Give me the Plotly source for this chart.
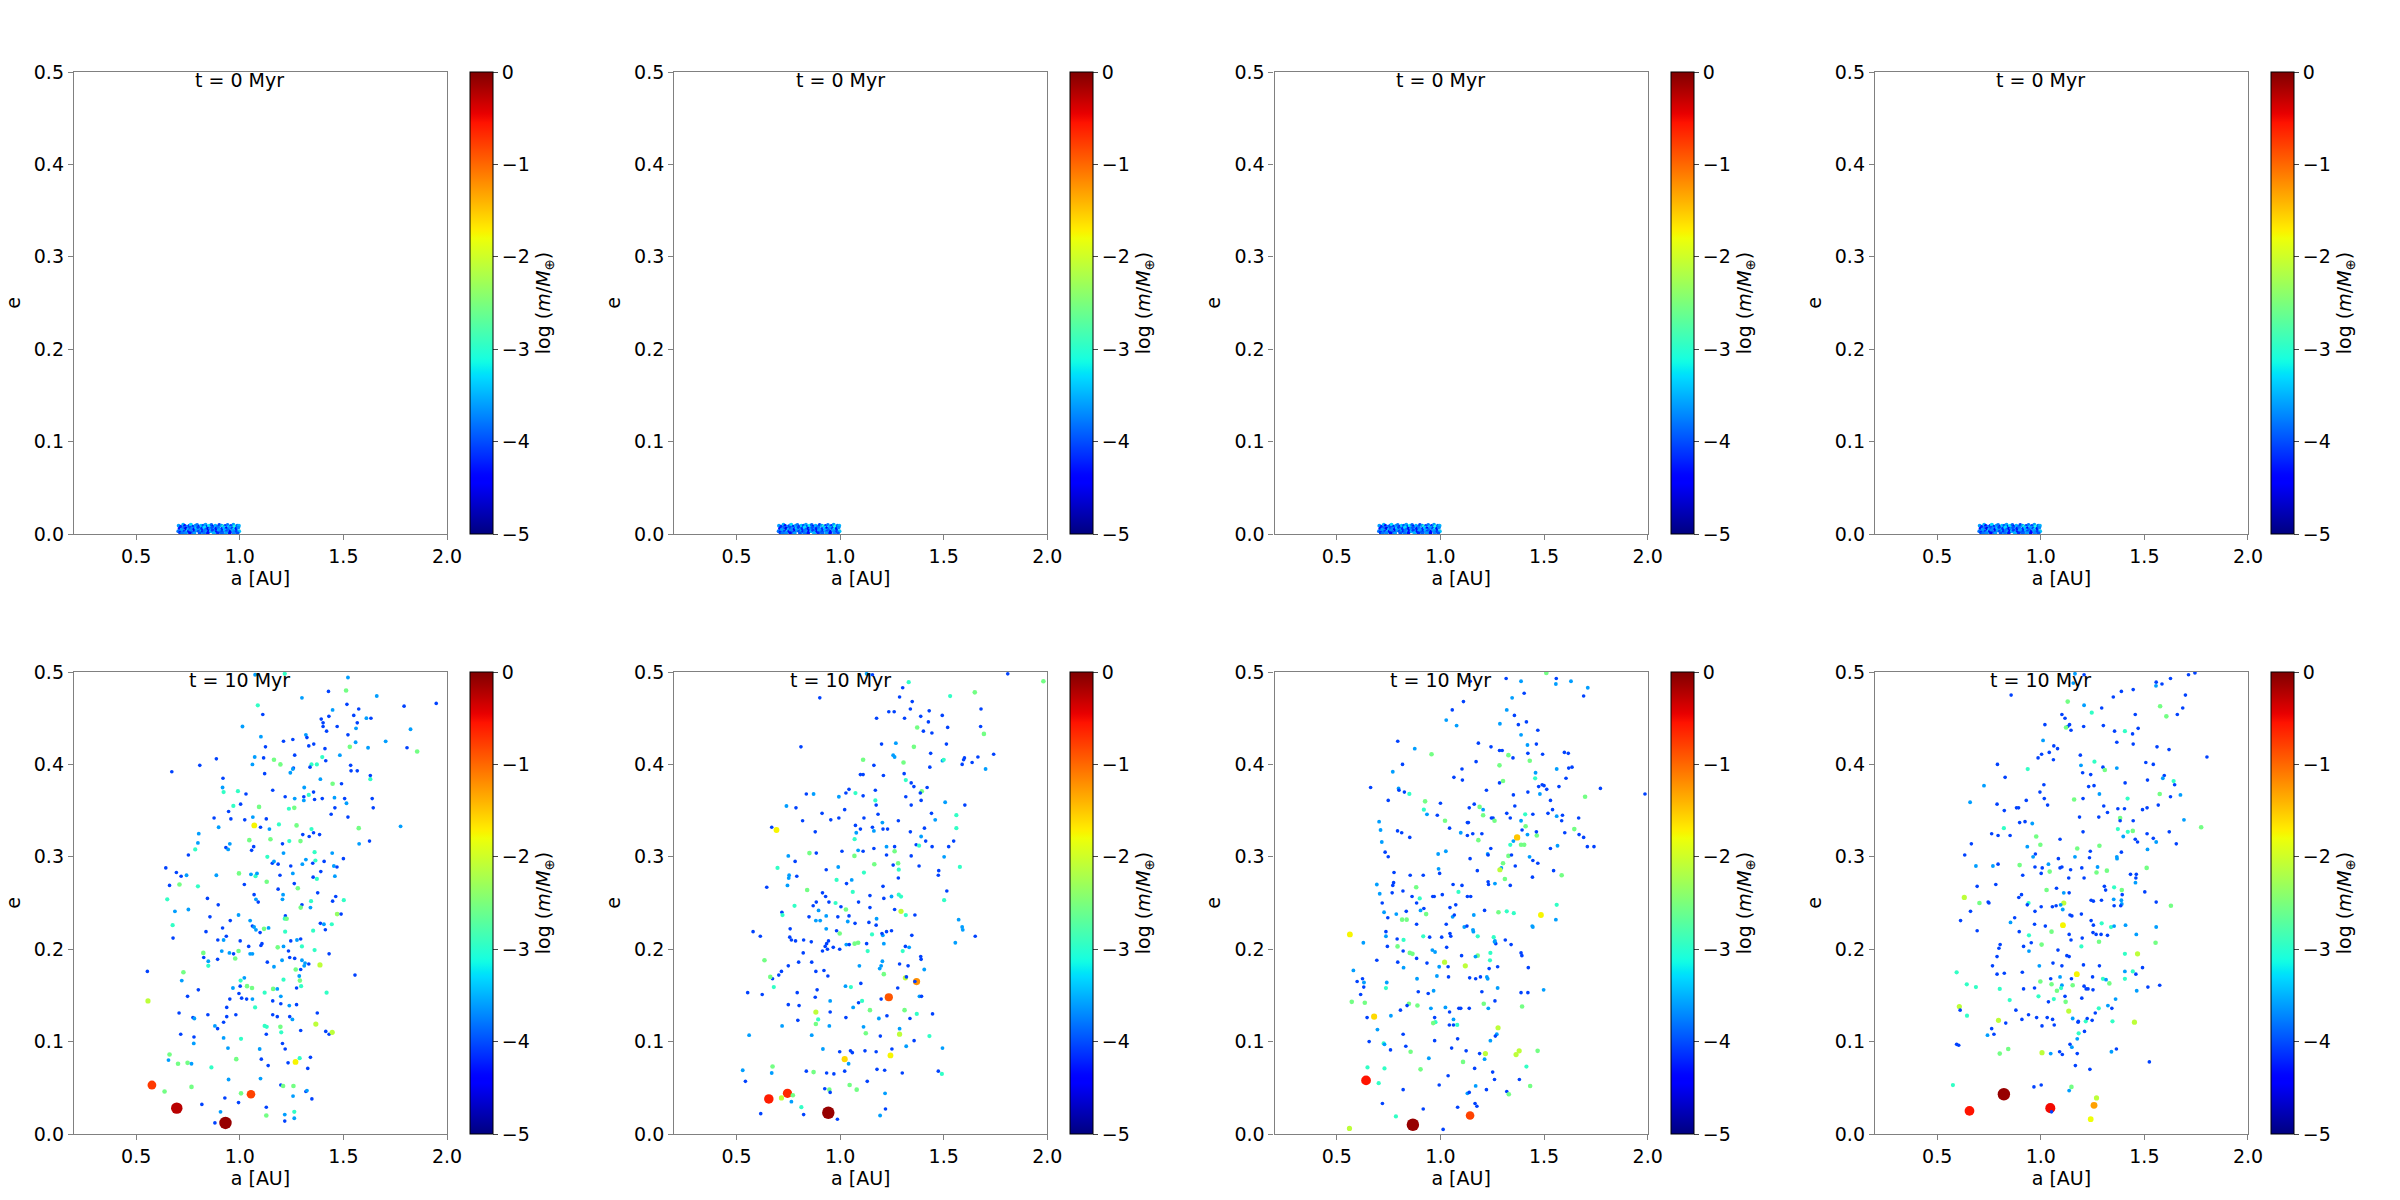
import numpy as np
import plotly.graph_objects as go

# ---------------- data ----------------
# t = 0 Myr : initial planetesimal strip (same in all four runs)
t0_a = [0.705,0.716,0.727,0.735,0.746,0.757,0.764,0.775,0.786,0.794,0.805,0.813,0.824,0.835,0.843,0.852,0.863,0.871,0.882,0.893,0.901,0.912,0.921,0.930,0.941,0.949,0.958,0.969,0.977,0.988,0.996,
        0.709,0.719,0.731,0.740,0.751,0.760,0.771,0.780,0.790,0.799,0.809,0.818,0.829,0.838,0.848,0.857,0.867,0.877,0.886,0.896,0.906,0.916,0.925,0.935,0.944,0.954,0.964,0.973,0.983,0.993,
        0.703,0.713,0.724,0.733,0.743,0.754,0.762,0.773,0.783,0.792,0.802,0.811,0.821,0.831,0.840,0.851,0.860,0.869,0.879,0.889,0.898,0.909,0.918,0.928,0.937,0.947,0.956,0.966,0.975,0.985,0.997,
        0.712,0.738,0.759,0.781,0.806,0.827,0.846,0.874,0.894,0.915,0.933,0.952,0.971,0.990,0.722]
t0_e = [0.009,0.008,0.010,0.009,0.008,0.009,0.010,0.008,0.009,0.010,0.008,0.009,0.009,0.010,0.008,0.009,0.010,0.008,0.009,0.008,0.010,0.009,0.008,0.009,0.010,0.008,0.009,0.010,0.008,0.009,0.009,
        0.006,0.005,0.007,0.006,0.005,0.007,0.006,0.005,0.006,0.007,0.005,0.006,0.007,0.005,0.006,0.006,0.007,0.005,0.006,0.007,0.005,0.006,0.007,0.006,0.005,0.007,0.006,0.005,0.006,0.007,
        0.003,0.002,0.004,0.003,0.002,0.003,0.004,0.002,0.003,0.004,0.003,0.002,0.003,0.004,0.002,0.003,0.003,0.004,0.002,0.003,0.004,0.002,0.003,0.004,0.003,0.002,0.003,0.004,0.002,0.003,0.003,
        0.001,0.001,0.001,0.001,0.001,0.001,0.001,0.001,0.001,0.001,0.001,0.001,0.001,0.001,0.001]
t0_logm = [-3.6,-4.2,-3.5,-4.4,-3.7,-4.1,-3.3,-4.3,-3.6,-3.8,-4.5,-3.4,-4.0,-3.6,-4.2,-3.2,-3.9,-4.4,-3.5,-3.7,-4.1,-3.6,-3.0,-4.2,-3.8,-3.4,-4.3,-3.6,-3.1,-3.9,-3.5,
           -4.3,-3.6,-3.9,-4.5,-3.5,-4.0,-3.7,-4.4,-3.4,-4.1,-3.6,-4.2,-3.3,-3.9,-4.5,-3.7,-4.0,-3.5,-4.3,-3.8,-3.6,-4.2,-3.4,-4.4,-3.9,-3.6,-4.1,-3.2,-4.3,-3.7,
           -3.8,-4.4,-3.6,-4.1,-3.5,-4.3,-3.7,-3.9,-4.5,-3.6,-4.0,-3.4,-4.2,-3.8,-3.6,-4.4,-3.5,-4.1,-3.7,-4.3,-3.6,-3.9,-4.2,-3.5,-4.0,-3.7,-4.4,-3.6,-3.8,-4.1,-3.4,
           -4.1,-3.7,-4.4,-3.6,-4.0,-3.8,-4.3,-3.5,-4.2,-3.9,-3.6,-4.4,-3.7,-4.0,-3.8]

# t = 10 Myr, run 1
p1_a = [1.074,1.217,1.522,1.513,1.300,1.661,1.948,1.793,1.428,1.087,
        1.517,1.448,1.111,1.430,1.550,1.574,1.393,1.611,1.633,1.567,
        1.561,1.824,1.402,1.402,1.470,1.419,1.522,1.013,1.319,1.324,
        1.102,1.256,1.211,1.559,1.704,1.531,1.333,1.124,1.357,1.411,
        1.619,1.807,1.856,1.265,1.072,1.115,1.165,1.483,1.398,1.415,
        0.887,1.196,0.807,1.346,1.372,0.672,1.061,1.120,1.244,1.259,
        1.256,1.339,1.535,1.537,1.567,1.630,1.630,1.389,1.448,1.491,
        0.919,0.917,0.922,0.991,1.030,1.159,1.311,1.333,1.356,1.219,
        1.265,1.309,1.309,1.398,1.457,1.506,1.639,1.515,1.644,1.093,
        0.969,1.004,0.946,1.237,1.263,1.361,1.459,1.441,1.522,0.876,
        0.957,1.024,1.063,1.128,1.070,1.100,1.189,1.274,1.143,1.346,
        1.574,1.776,0.898,0.802,0.798,1.304,1.335,1.356,1.385,1.046,
        1.148,1.239,1.293,1.206,0.952,1.067,0.933,0.944,1.057,0.785,
        1.576,1.626,1.361,1.211,1.446,0.752,1.133,1.500,1.319,1.365,
        1.407,1.352,0.643,0.694,0.717,0.743,0.887,0.996,1.054,1.076,
        1.083,1.157,1.165,1.185,1.246,1.302,1.454,1.469,1.194,1.256,
        1.130,1.354,1.372,1.391,1.459,0.661,0.709,0.798,1.022,1.263,
        1.280,1.185,0.650,0.844,1.069,1.078,1.089,1.209,1.206,1.376,
        1.463,1.502,1.344,1.448,1.300,1.341,1.294,0.896,0.687,0.752,
        0.994,1.470,1.489,0.856,1.220,1.217,1.226,0.954,1.050,0.676,
        1.061,1.069,1.117,1.139,1.078,1.098,1.389,1.406,1.444,1.413,
        1.354,1.219,0.917,0.837,0.678,0.935,0.894,0.922,1.002,1.246,
        1.276,1.294,1.107,1.043,0.824,0.994,0.913,0.950,0.970,0.978,
        1.050,1.061,1.102,1.183,1.211,1.300,1.235,1.361,1.387,0.826,
        0.848,0.893,0.848,1.133,1.204,1.241,1.265,1.300,1.315,1.311,
        1.333,1.165,1.270,1.294,1.431,1.556,0.554,0.728,0.720,1.287,
        1.290,1.296,1.274,1.211,1.004,1.022,1.035,1.059,1.002,0.967,
        0.800,1.161,1.181,1.120,1.419,0.557,0.748,0.996,1.009,1.033,
        1.061,0.952,1.159,1.198,1.198,1.239,1.274,1.074,0.937,0.707,
        0.846,0.937,0.981,1.159,1.181,1.241,1.254,1.374,0.774,0.781,
        0.922,1.367,0.880,0.893,1.120,1.130,1.196,1.200,1.128,1.294,
        1.415,1.431,1.446,0.715,0.779,0.922,1.006,0.778,0.943,1.096,
        1.206,1.219,0.661,0.656,0.983,1.104,1.289,1.341,1.269,1.233,
        0.702,0.748,0.767,1.137,1.328,0.863,1.100,0.946,1.198,1.209,
        1.259,0.576,0.637,0.767,1.006,1.054,1.257,1.319,1.324,1.348,
        0.928,0.994,0.817,0.696,1.128,0.907,1.128,1.217,1.263,1.263,
        1.217,0.880,0.931]
p1_e = [.497,.498,.494,.480,.472,.474,.466,.463,.479,.464,
        .465,.459,.454,.452,.453,.460,.449,.450,.450,.445,
        .439,.438,.445,.441,.441,.436,.432,.441,.432,.429,
        .430,.427,.425,.424,.425,.419,.420,.419,.422,.417,
        .418,.418,.414,.410,.408,.407,.405,.410,.408,.404,
        .406,.400,.399,.400,.400,.392,.400,.390,.391,.396,
        .395,.397,.399,.393,.393,.384,.388,.384,.379,.379,
        .385,.375,.370,.371,.368,.372,.375,.367,.370,.365,
        .363,.365,.361,.363,.364,.363,.363,.358,.353,.354,
        .355,.357,.349,.352,.353,.362,.353,.346,.343,.342,
        .341,.340,.343,.341,.334,.332,.335,.334,.330,.330,
        .331,.333,.332,.325,.315,.324,.322,.326,.324,.318,
        .319,.317,.317,.314,.314,.311,.310,.308,.307,.308,
        .314,.317,.305,.304,.304,.302,.300,.298,.297,.296,
        .295,.293,.288,.283,.279,.280,.280,.282,.281,.279,
        .282,.293,.295,.292,.290,.292,.290,.289,.280,.282,
        .273,.278,.276,.284,.279,.269,.270,.268,.270,.271,
        .266,.265,.254,.255,.259,.254,.251,.259,.254,.261,
        .257,.253,.252,.252,.248,.245,.245,.248,.241,.243,
        .237,.238,.238,.235,.236,.233,.233,.231,.231,.226,
        .225,.224,.222,.223,.221,.218,.228,.227,.227,.221,
        .220,.219,.223,.219,.212,.214,.210,.210,.209,.209,
        .210,.211,.206,.203,.196,.198,.198,.196,.195,.190,
        .195,.195,.204,.202,.203,.203,.198,.199,.183,.191,
        .187,.189,.182,.186,.188,.191,.190,.188,.185,.182,
        .184,.181,.178,.178,.195,.172,.176,.175,.166,.171,
        .166,.160,.158,.167,.166,.169,.160,.158,.160,.158,
        .156,.157,.157,.153,.153,.144,.149,.152,.147,.146,
        .146,.146,.144,.149,.141,.139,.140,.137,.137,.131,
        .129,.127,.129,.129,.127,.127,.124,.131,.126,.125,
        .121,.119,.117,.114,.117,.116,.116,.110,.108,.112,
        .111,.108,.110,.108,.105,.104,.103,.098,.093,.092,
        .098,.092,.086,.080,.081,.081,.082,.083,.078,.077,
        .076,.077,.076,.074,.071,.072,.060,.059,.053,.052,
        .052,.053,.046,.051,.044,.043,.041,.046,.047,.038,
        .039,.034,.032,.028,.029,.024,.020,.021,.024,.017,
        .014,.012,.012]
p1_logm = [-3.6,-2.95,-3.6,-2.55,-3.6,-3.6,-4.05,-4.05,-4.05,-2.95,
           -4.05,-3.6,-4.05,-4.05,-4.05,-4.05,-4.05,-3.6,-4.05,-4.05,
           -3.6,-3.6,-4.05,-4.05,-4.05,-4.05,-4.05,-3.6,-3.6,-4.05,
           -3.6,-4.05,-4.05,-3.6,-3.6,-2.55,-4.05,-4.05,-4.05,-4.05,
           -3.6,-4.05,-2.55,-4.05,-3.6,-4.05,-2.55,-3.6,-2.95,-4.05,
           -4.05,-2.55,-4.05,-2.95,-2.95,-4.05,-3.6,-4.05,-3.6,-4.05,
           -3.6,-4.05,-4.05,-4.05,-4.05,-2.95,-4.05,-3.6,-2.55,-4.05,
           -4.05,-3.6,-2.95,-2.95,-4.05,-4.05,-3.6,-2.95,-4.05,-4.05,
           -3.6,-4.05,-3.6,-4.05,-3.6,-4.05,-4.05,-3.6,-4.05,-2.55,
           -2.95,-4.05,-4.05,-2.95,-2.55,-4.05,-4.05,-4.05,-4.05,-4.05,
           -4.05,-4.05,-3.6,-4.05,-1.75,-4.05,-2.95,-2.55,-3.6,-2.95,
           -2.55,-3.6,-3.6,-3.6,-3.6,-4.05,-4.05,-4.05,-4.05,-2.55,
           -2.55,-2.95,-2.55,-4.05,-3.6,-4.05,-4.05,-3.6,-4.05,-2.95,
           -3.6,-4.05,-2.95,-3.6,-3.6,-4.05,-2.95,-4.05,-3.6,-2.95,
           -4.05,-4.05,-4.05,-4.05,-4.05,-3.6,-3.6,-2.55,-3.6,-2.95,
           -3.6,-4.05,-3.6,-4.05,-4.05,-3.6,-3.6,-4.05,-4.05,-3.6,
           -2.55,-4.05,-2.95,-4.05,-3.6,-4.05,-2.55,-2.95,-4.05,-4.05,
           -2.55,-4.05,-2.95,-4.05,-4.05,-3.6,-4.05,-3.6,-3.6,-4.05,
           -4.05,-2.95,-2.95,-4.05,-4.05,-3.6,-2.55,-4.05,-3.6,-3.6,
           -3.6,-2.35,-4.05,-4.05,-4.05,-2.95,-2.55,-4.05,-3.6,-2.95,
           -4.05,-3.6,-2.55,-3.6,-3.6,-4.05,-4.05,-3.6,-2.95,-4.05,
           -2.95,-2.95,-4.05,-4.05,-4.05,-4.05,-4.05,-3.6,-4.05,-4.05,
           -3.6,-4.05,-4.05,-4.05,-2.55,-2.55,-3.6,-3.6,-4.05,-2.55,
           -3.6,-3.6,-4.05,-2.55,-3.6,-2.95,-4.05,-2.95,-2.1,-4.05,
           -3.6,-4.05,-2.95,-4.05,-3.6,-4.05,-4.05,-3.6,-3.6,-3.6,
           -4.05,-3.6,-2.55,-4.05,-4.05,-4.05,-4.05,-2.55,-3.6,-3.6,
           -2.55,-2.95,-4.05,-2.95,-2.95,-3.6,-2.55,-2.55,-4.05,-3.6,
           -4.05,-2.55,-3.6,-2.95,-2.95,-2.1,-4.05,-4.05,-4.05,-4.05,
           -3.6,-4.05,-4.05,-3.6,-4.05,-3.6,-4.05,-2.95,-4.05,-4.05,
           -4.05,-4.05,-4.05,-4.05,-4.05,-4.05,-3.6,-4.05,-4.05,-3.6,
           -4.05,-2.1,-3.6,-4.05,-2.95,-2.95,-2.55,-2.95,-4.05,-4.05,
           -4.05,-4.05,-2.1,-4.05,-4.05,-3.6,-2.95,-3.6,-3.6,-3.6,
           -4.05,-4.05,-2.55,-3.6,-2.55,-4.05,-2.95,-4.05,-1.75,-4.05,
           -2.55,-2.55,-3.6,-4.05,-4.05,-2.95,-3.6,-3.6,-4.05,-2.55,
           -2.55,-0.75,-2.55,-2.55,-2.55,-0.8,-3.6,-4.05,-3.6,-4.05,
           -4.05,-4.05,-4.05,-0.25,-4.05,-3.6,-2.55,-3.6,-2.95,-3.6,
           -4.05,-4.05,-0.1]

# t = 10 Myr, run 2
p2_a = [1.128,1.156,1.331,1.809,1.981,0.902,1.302,1.287,1.531,1.650,
        1.348,1.680,1.339,1.235,1.261,1.430,1.493,1.176,1.311,1.389,
        1.426,1.519,1.372,1.402,1.443,1.678,1.694,1.200,1.269,1.513,
        1.356,0.811,1.256,1.263,1.437,1.741,1.111,1.494,1.500,1.665,
        1.600,1.596,1.589,1.637,1.306,1.163,1.433,1.702,1.309,1.098,
        1.111,1.209,1.317,1.343,1.356,1.420,1.394,1.387,1.043,1.028,
        1.074,1.170,0.994,1.111,1.317,0.837,0.872,1.170,1.174,1.343,
        1.391,1.507,1.602,0.741,0.787,1.022,0.913,1.441,1.561,1.183,
        1.115,0.994,0.955,0.819,1.281,1.204,1.459,0.670,0.693,1.074,
        1.098,1.156,1.207,1.229,1.163,1.078,0.880,1.339,1.407,1.561,
        1.070,1.391,1.413,1.367,1.381,1.548,1.524,1.009,1.087,1.111,
        1.163,1.224,1.263,1.263,0.852,0.885,1.069,0.750,0.783,1.224,
        1.343,1.444,1.502,1.165,1.256,1.280,0.933,0.991,0.698,1.283,
        1.381,1.476,1.474,1.578,0.754,0.791,0.752,0.746,0.983,1.056,
        1.031,1.115,1.207,1.281,0.646,0.841,1.061,0.915,0.930,0.978,
        1.144,1.248,1.211,1.283,1.294,1.515,1.502,0.885,0.870,0.946,
        0.896,1.004,1.028,1.089,1.144,1.263,1.294,1.317,1.361,0.719,
        0.722,0.780,0.933,0.989,1.043,0.850,0.883,0.904,1.037,1.072,
        1.176,1.139,1.174,1.572,1.589,1.592,0.933,0.759,0.580,0.983,
        1.154,1.206,1.202,1.224,1.248,0.998,1.346,0.615,0.757,0.765,
        0.785,0.824,0.861,0.944,1.087,1.070,1.030,1.044,0.935,0.928,
        0.967,0.998,1.128,1.211,1.315,1.333,1.556,1.652,0.635,0.915,
        0.939,1.133,1.302,0.822,1.093,0.750,0.800,0.863,1.204,1.198,
        1.287,1.328,1.389,1.391,1.406,1.191,1.211,0.883,0.922,0.717,
        0.704,0.674,0.663,1.315,1.320,1.369,1.361,0.941,1.100,0.680,
        1.026,1.052,1.278,0.554,0.793,0.889,0.624,1.383,1.393,1.235,
        1.198,0.952,0.880,1.106,0.802,0.750,1.063,1.089,1.144,1.311,
        0.883,0.952,1.370,1.446,1.226,1.028,1.187,1.337,0.894,0.796,
        0.883,0.720,0.948,1.113,1.287,1.124,1.287,0.561,0.863,1.194,
        1.431,1.357,1.319,0.917,1.250,1.494,0.998,1.050,1.174,1.059,
        1.120,1.243,1.022,1.041,0.674,0.530,0.670,0.837,0.872,0.935,
        0.970,1.022,1.178,1.215,1.300,1.474,1.491,0.543,1.131,1.046,
        0.926,0.948,0.952,1.080,1.217,0.746,0.772,0.717,0.656,0.765,
        0.813,1.219,0.617,0.824,0.943,1.193,0.987]
p2_e = [.498,.497,.489,.498,.490,.472,.483,.473,.474,.478,
        .468,.460,.460,.457,.457,.458,.453,.450,.450,.452,
        .446,.440,.440,.436,.434,.441,.433,.422,.423,.422,
        .419,.419,.410,.408,.412,.411,.405,.404,.405,.408,
        .407,.405,.400,.402,.402,.399,.397,.395,.390,.389,
        .389,.388,.383,.380,.376,.375,.371,.369,.373,.369,
        .369,.372,.365,.366,.365,.368,.368,.361,.356,.356,
        .361,.359,.356,.355,.353,.351,.347,.347,.345,.346,
        .342,.342,.340,.339,.339,.337,.340,.332,.329,.334,
        .330,.332,.330,.330,.328,.326,.327,.327,.331,.331,
        .319,.322,.317,.313,.312,.317,.311,.306,.307,.306,
        .309,.311,.311,.306,.304,.304,.301,.301,.295,.302,
        .301,.311,.300,.292,.291,.293,.286,.289,.288,.286,
        .290,.285,.280,.289,.280,.279,.277,.269,.275,.275,
        .271,.283,.268,.277,.267,.264,.262,.261,.257,.250,
        .258,.257,.255,.259,.257,.263,.253,.251,.247,.251,
        .242,.246,.243,.251,.245,.243,.241,.237,.237,.240,
        .237,.247,.236,.235,.236,.235,.231,.231,.230,.228,
        .233,.229,.226,.232,.224,.221,.222,.222,.219,.220,
        .216,.215,.217,.219,.220,.217,.215,.214,.213,.210,
        .209,.210,.208,.209,.207,.206,.205,.205,.206,.203,
        .202,.200,.206,.206,.203,.202,.207,.214,.188,.198,
        .200,.198,.198,.196,.182,.182,.186,.186,.187,.182,
        .184,.182,.192,.189,.178,.179,.173,.176,.177,.176,
        .172,.168,.170,.169,.170,.165,.165,.171,.163,.159,
        .160,.159,.158,.153,.153,.156,.151,.149,.149,.148,
        .146,.144,.148,.144,.139,.140,.137,.142,.134,.134,
        .132,.132,.130,.130,.128,.126,.125,.125,.124,.123,
        .119,.117,.117,.116,.114,.109,.108,.107,.107,.106,
        .106,.101,.095,.092,.092,.093,.089,.090,.089,.088,
        .090,.085,.081,.076,.073,.069,.066,.068,.067,.066,
        .065,.068,.070,.069,.066,.068,.065,.057,.057,.053,
        .049,.048,.045,.048,.044,.044,.042,.039,.038,.035,
        .029,.027,.022,.021,.023,.020,.016]
p2_logm = [-3.6,-4.05,-2.95,-4.05,-2.55,-4.05,-4.05,-4.05,-2.95,-2.55,
           -4.05,-4.05,-4.05,-4.05,-4.05,-4.05,-4.05,-4.05,-4.05,-4.05,
           -4.05,-4.05,-2.55,-4.05,-4.05,-4.05,-2.55,-4.05,-3.6,-4.05,
           -2.55,-4.05,-3.6,-3.6,-4.05,-4.05,-2.55,-3.6,-2.95,-4.05,
           -4.05,-4.05,-4.05,-4.05,-2.55,-4.05,-4.05,-3.6,-4.05,-4.05,
           -4.05,-4.05,-2.95,-4.05,-4.05,-4.05,-2.55,-4.05,-4.05,-4.05,
           -2.95,-4.05,-3.6,-4.05,-4.05,-4.05,-3.6,-2.95,-4.05,-4.05,
           -4.05,-3.6,-4.05,-3.6,-4.05,-4.05,-4.05,-4.05,-2.95,-4.05,
           -4.05,-4.05,-4.05,-4.05,-4.05,-3.6,-3.6,-4.05,-1.75,-4.05,
           -4.05,-4.05,-4.05,-4.05,-3.6,-3.6,-4.05,-4.05,-4.05,-2.95,
           -2.95,-3.6,-4.05,-4.05,-2.95,-4.05,-4.05,-4.05,-3.6,-4.05,
           -4.05,-3.6,-4.05,-2.55,-2.55,-4.05,-2.55,-3.6,-4.05,-4.05,
           -4.05,-4.05,-3.6,-2.55,-4.05,-2.55,-4.05,-3.6,-2.95,-2.95,
           -4.05,-4.05,-4.05,-2.95,-3.6,-4.05,-3.6,-3.6,-2.95,-3.6,
           -4.05,-2.95,-4.05,-4.05,-4.05,-2.55,-2.95,-4.05,-4.05,-2.95,
           -4.05,-3.6,-4.05,-2.95,-2.95,-4.05,-2.95,-4.05,-4.05,-4.05,
           -3.6,-4.05,-2.55,-4.05,-4.05,-4.05,-2.1,-2.95,-4.05,-4.05,
           -2.95,-2.95,-3.6,-4.05,-4.05,-4.05,-3.6,-3.6,-3.6,-4.05,
           -3.6,-4.05,-4.05,-3.6,-3.6,-3.6,-3.6,-4.05,-4.05,-4.05,
           -2.95,-3.6,-4.05,-4.05,-4.05,-2.55,-4.05,-4.05,-4.05,-4.05,
           -4.05,-4.05,-4.05,-4.05,-2.55,-2.55,-3.6,-4.05,-4.05,-4.05,
           -4.05,-4.05,-4.05,-3.6,-4.05,-3.6,-3.6,-4.05,-2.55,-4.05,
           -4.05,-2.95,-2.95,-4.05,-3.6,-4.05,-4.05,-4.05,-3.6,-3.6,
           -4.05,-4.05,-4.05,-4.05,-3.6,-3.6,-2.55,-4.05,-4.05,-4.05,
           -4.05,-4.05,-2.55,-2.1,-4.05,-1.2,-4.05,-4.05,-4.05,-2.95,
           -3.6,-2.95,-4.05,-4.05,-4.05,-4.05,-4.05,-3.6,-4.05,-0.9,
           -4.05,-3.6,-4.05,-2.95,-4.05,-4.05,-3.6,-4.05,-2.55,-2.55,
           -2.1,-4.05,-2.95,-4.05,-4.05,-4.05,-3.6,-4.05,-2.95,-4.05,
           -2.55,-3.6,-3.6,-3.6,-3.6,-2.55,-2.1,-3.6,-3.6,-4.05,
           -2.95,-4.05,-3.6,-3.6,-4.05,-3.6,-4.05,-4.05,-4.05,-4.05,
           -4.05,-1.75,-1.6,-3.6,-2.55,-3.6,-3.6,-4.05,-2.55,-4.05,
           -4.05,-4.05,-4.05,-4.05,-4.05,-4.05,-2.95,-4.05,-4.05,-2.55,
           -4.05,-2.55,-4.05,-2.55,-3.6,-0.65,-2.55,-2.1,-0.6,-3.6,
           -2.95,-4.05,-4.05,-4.05,-0.1,-3.6,-4.05]

# t = 10 Myr, run 3
p3_a = [1.511,1.144,1.317,1.389,1.559,1.557,1.630,1.711,1.346,1.404,
        1.111,1.691,1.057,1.320,1.028,1.357,1.415,1.078,1.287,1.376,
        1.470,1.389,1.420,1.463,0.794,1.183,1.244,0.876,0.957,1.298,
        1.285,1.422,1.493,1.598,1.617,1.328,1.350,1.431,1.172,0.817,
        1.285,1.459,1.561,1.619,1.635,1.606,1.104,1.065,1.106,0.770,
        1.302,1.285,1.457,1.474,1.491,1.500,1.513,1.572,0.663,0.798,
        0.800,0.826,0.850,1.222,1.352,1.422,1.480,1.772,1.698,1.987,
        0.926,1.000,0.748,1.531,1.163,1.189,1.139,1.206,0.920,0.935,
        0.985,1.359,1.409,1.446,1.541,1.519,1.561,1.589,1.585,1.667,
        1.691,1.206,1.254,1.246,1.261,1.135,1.022,1.044,1.130,0.704,
        0.711,0.717,1.337,1.389,1.411,1.394,1.320,1.646,1.600,1.669,
        0.793,0.813,0.852,1.098,1.156,1.200,1.130,1.370,1.420,1.465,
        1.463,1.183,1.337,1.389,1.404,1.352,1.565,1.531,1.741,1.243,
        1.228,1.230,1.328,1.343,0.733,0.748,0.989,1.026,1.143,1.430,
        1.446,1.470,1.709,1.302,1.294,1.287,1.361,0.991,0.996,1.178,
        1.546,0.776,0.854,0.917,1.585,1.444,1.311,1.230,1.263,1.232,
        1.337,0.693,0.774,0.770,1.061,1.104,0.883,0.767,0.819,0.707,
        1.009,1.087,0.863,0.900,0.963,0.970,1.130,1.146,0.719,0.885,
        1.561,0.920,1.046,1.074,1.213,0.835,0.728,0.787,0.904,0.931,
        1.059,1.067,1.161,1.280,1.320,1.354,1.485,1.557,0.815,0.837,
        0.746,0.885,1.028,1.115,1.128,1.157,1.159,1.443,1.446,0.737,
        0.737,0.917,0.948,1.006,1.046,1.050,1.180,0.791,0.822,1.257,
        1.313,1.263,1.267,1.341,0.744,0.793,1.030,1.261,0.563,0.628,
        0.961,0.974,0.820,0.852,0.865,1.241,1.180,1.169,1.102,1.239,
        0.885,0.794,1.020,0.935,1.389,1.393,1.120,0.994,1.037,0.822,
        1.276,1.424,1.235,0.580,0.693,0.983,1.039,1.141,1.170,1.193,
        1.224,1.228,0.887,0.624,0.598,0.631,0.630,0.615,0.741,0.737,
        1.276,1.498,0.967,0.941,0.893,1.200,1.389,1.422,1.263,0.572,
        0.635,0.848,0.839,0.889,1.209,1.231,1.394,0.807,0.954,1.024,
        1.044,1.089,1.098,1.139,0.680,0.646,0.972,0.761,0.976,0.965,
        1.063,1.043,1.063,1.081,1.278,0.696,1.272,1.265,0.820,0.972,
        1.083,1.241,0.656,0.726,0.730,0.833,1.054,1.124,1.189,0.759,
        0.856,1.217,1.213,1.380,1.365,1.469,0.944,1.109,0.648,0.730,
        0.904,1.165,1.415,1.252,1.037,0.641,1.261,1.381,0.702,0.994,
        1.170,1.222,1.433,0.820,1.130,1.139,1.320,1.330,0.720,1.167,
        1.176,1.083,0.917,0.785,1.143,0.867,0.561,1.013]
p3_e = [.499,.490,.493,.490,.493,.487,.490,.483,.472,.477,
        .468,.474,.459,.459,.448,.453,.446,.442,.444,.443,
        .437,.432,.421,.422,.425,.423,.419,.417,.411,.415,
        .415,.412,.411,.413,.412,.410,.407,.404,.403,.400,
        .399,.391,.395,.396,.397,.385,.395,.386,.383,.392,
        .382,.380,.385,.376,.378,.377,.373,.376,.375,.374,
        .372,.370,.368,.372,.367,.370,.368,.374,.365,.368,
        .360,.358,.361,.361,.357,.354,.353,.351,.351,.346,
        .345,.355,.346,.346,.351,.347,.344,.345,.339,.342,
        .321,.345,.342,.342,.339,.337,.339,.331,.337,.338,
        .329,.316,.342,.339,.333,.329,.347,.330,.326,.324,
        .328,.326,.321,.326,.325,.325,.323,.321,.324,.323,
        .327,.318,.313,.313,.313,.317,.312,.309,.311,.309,
        .303,.302,.301,.302,.305,.300,.303,.306,.298,.300,
        .296,.293,.311,.293,.288,.286,.290,.287,.282,.285,
        .285,.283,.280,.280,.280,.278,.276,.273,.271,.270,
        .269,.270,.272,.269,.270,.269,.267,.261,.263,.260,
        .259,.262,.257,.255,.257,.257,.257,.257,.250,.250,
        .248,.244,.245,.248,.242,.241,.240,.238,.242,.238,
        .235,.237,.237,.240,.241,.239,.237,.232,.232,.232,
        .234,.227,.227,.224,.225,.221,.219,.225,.224,.219,
        .214,.214,.213,.213,.217,.214,.214,.211,.210,.213,
        .210,.209,.206,.205,.203,.203,.202,.208,.216,.207,
        .199,.197,.198,.196,.195,.196,.193,.192,.193,.188,
        .190,.186,.186,.185,.196,.193,.182,.181,.181,.180,
        .181,.180,.179,.177,.188,.171,.170,.169,.168,.170,
        .170,.168,.168,.168,.165,.164,.159,.151,.164,.158,
        .158,.156,.155,.152,.154,.154,.153,.153,.144,.143,
        .142,.141,.139,.139,.141,.136,.138,.134,.136,.137,
        .132,.136,.136,.136,.127,.126,.126,.128,.121,.120,
        .124,.118,.118,.118,.115,.113,.108,.106,.108,.101,
        .103,.101,.100,.098,.097,.095,.093,.090,.087,.091,
        .089,.087,.081,.090,.086,.090,.082,.078,.072,.071,
        .070,.071,.073,.067,.063,.058,.059,.059,.055,.053,
        .052,.048,.052,.048,.044,.045,.046,.043,.033,.033,
        .030,.029,.027,.019,.020,.010,.006,.005]
p3_logm = [-2.55,-4.05,-4.05,-3.6,-4.05,-3.6,-3.6,-3.6,-3.6,-4.05,
           -4.05,-4.05,-4.05,-3.6,-3.6,-4.05,-4.05,-3.6,-3.6,-4.05,
           -4.05,-3.6,-3.6,-4.05,-4.05,-4.05,-4.05,-3.6,-2.55,-4.05,
           -4.05,-4.05,-4.05,-4.05,-4.05,-2.55,-4.05,-2.55,-4.05,-4.05,
           -2.55,-3.6,-3.6,-4.05,-4.05,-4.05,-4.05,-4.05,-4.05,-3.6,
           -2.55,-4.05,-2.95,-4.05,-4.05,-4.05,-4.05,-4.05,-4.05,-3.6,
           -4.05,-4.05,-2.95,-4.05,-4.05,-4.05,-3.6,-4.05,-2.55,-4.05,
           -2.55,-4.05,-4.05,-4.05,-4.05,-2.55,-4.05,-3.6,-2.95,-3.6,
           -4.05,-4.05,-2.95,-4.05,-4.05,-4.05,-3.6,-4.05,-4.05,-4.05,
           -4.05,-2.55,-4.05,-4.05,-2.55,-4.05,-2.55,-4.05,-4.05,-3.6,
           -3.6,-3.6,-4.05,-3.6,-2.55,-4.05,-4.05,-2.55,-4.05,-4.05,
           -4.05,-4.05,-4.05,-3.6,-4.05,-4.05,-4.05,-1.5,-3.6,-2.55,
           -4.05,-2.55,-2.95,-2.55,-2.55,-3.6,-3.6,-4.05,-4.05,-4.05,
           -3.6,-4.05,-2.55,-4.05,-4.05,-4.05,-3.6,-3.6,-4.05,-3.6,
           -4.05,-4.05,-4.05,-2.55,-3.6,-2.1,-4.05,-3.6,-4.05,-4.05,
           -4.05,-4.05,-4.05,-4.05,-2.55,-4.05,-2.55,-4.05,-3.6,-4.05,
           -4.05,-3.6,-4.05,-4.05,-4.05,-4.05,-2.55,-4.05,-4.05,-3.6,
           -4.05,-2.95,-4.05,-2.95,-4.05,-4.05,-4.05,-4.05,-4.05,-4.05,
           -2.95,-4.05,-4.05,-4.05,-4.05,-4.05,-3.6,-3.6,-3.6,-2.55,
           -3.6,-4.05,-3.6,-2.55,-2.95,-2.95,-1.75,-3.6,-2.55,-2.55,
           -4.05,-4.05,-4.05,-3.6,-4.05,-3.6,-3.6,-3.6,-3.6,-4.05,
           -3.6,-2.95,-4.05,-4.05,-4.05,-4.05,-2.95,-4.05,-2.95,-2.95,
           -4.05,-3.6,-4.05,-4.05,-4.05,-2.55,-4.05,-3.6,-1.75,-3.6,
           -3.6,-3.6,-4.05,-2.55,-2.55,-2.95,-2.55,-3.6,-4.05,-2.95,
           -4.05,-4.05,-2.1,-4.05,-4.05,-4.05,-2.1,-3.6,-4.05,-3.6,
           -4.05,-4.05,-4.05,-3.6,-4.05,-3.6,-4.05,-4.05,-4.05,-4.05,
           -3.6,-3.6,-3.6,-4.05,-4.05,-3.6,-4.05,-4.05,-3.6,-2.95,
           -3.6,-3.6,-3.6,-4.05,-4.05,-4.05,-4.05,-4.05,-4.05,-2.55,
           -2.55,-2.55,-4.05,-2.55,-2.55,-3.6,-2.55,-4.05,-3.6,-3.6,
           -4.05,-4.05,-4.05,-4.05,-1.6,-4.05,-4.05,-3.6,-2.95,-2.55,
           -3.6,-4.05,-4.05,-2.95,-2.1,-3.6,-3.6,-4.05,-4.05,-4.05,
           -4.05,-3.6,-4.05,-2.95,-3.6,-4.05,-4.05,-4.05,-4.05,-4.05,
           -2.55,-2.1,-3.6,-2.1,-2.1,-2.55,-3.6,-2.55,-2.95,-2.95,
           -2.55,-4.05,-2.95,-4.05,-4.05,-0.55,-4.05,-4.05,-2.95,-4.05,
           -3.6,-4.05,-2.55,-4.05,-3.6,-4.05,-4.05,-2.55,-4.05,-4.05,
           -4.05,-4.05,-4.05,-2.95,-0.8,-0.1,-2.1,-4.05]

# t = 10 Myr, run 4
p4_a = [1.165,1.157,1.209,1.557,1.556,1.585,1.626,1.713,1.744,1.698,
        0.857,1.130,1.209,1.294,1.350,1.389,1.446,1.576,1.685,1.102,
        1.117,1.246,1.456,1.606,1.659,1.020,1.130,1.139,1.146,1.122,
        1.207,1.302,1.406,1.356,1.443,1.470,1.367,1.446,1.561,1.619,
        1.011,1.063,1.081,1.041,1.004,0.987,1.061,1.191,1.259,1.802,
        0.791,0.937,1.194,1.202,1.241,1.300,1.309,1.367,1.507,1.543,
        1.596,1.589,1.641,1.646,1.515,0.828,0.726,1.231,1.257,1.015,
        1.407,0.996,1.017,1.033,1.283,1.161,1.204,1.419,1.574,1.674,
        1.626,0.659,0.789,0.824,0.930,0.883,0.893,1.304,1.322,1.372,
        1.404,1.491,1.513,1.567,1.187,1.280,1.383,1.446,1.691,1.774,
        0.898,0.924,0.959,0.822,0.763,0.794,0.852,0.978,1.093,1.204,
        1.372,1.383,1.420,1.444,1.456,1.467,1.398,1.513,1.543,1.557,
        1.620,0.665,0.633,0.998,0.935,1.176,1.239,1.283,1.389,1.367,
        1.368,1.515,1.654,1.165,0.963,0.974,1.085,1.235,0.687,0.769,
        0.794,0.898,0.972,1.007,1.037,1.102,1.093,1.144,1.198,1.274,
        1.319,1.269,1.043,1.002,0.913,1.135,1.209,1.433,1.461,1.459,
        1.511,1.457,0.693,0.783,1.076,1.028,1.111,1.137,1.307,1.313,
        1.354,1.391,1.393,1.502,1.293,1.243,1.254,1.352,1.389,1.391,
        1.386,1.354,1.557,1.628,0.631,0.704,0.746,0.750,0.941,1.111,
        1.096,0.935,0.894,0.907,1.002,1.056,1.074,1.106,0.661,0.972,
        1.141,1.150,1.196,0.613,0.874,0.854,0.970,1.022,1.052,1.107,
        1.243,1.254,1.294,1.339,1.354,1.409,1.557,1.137,1.252,1.267,
        1.291,1.322,1.461,0.896,0.943,0.693,1.200,1.146,1.281,0.954,
        1.004,0.917,0.804,0.798,0.943,1.196,1.554,1.083,0.789,1.126,
        1.137,1.406,1.467,1.206,0.993,1.102,1.059,1.283,1.491,0.767,
        0.789,0.824,0.594,0.911,1.174,1.093,1.048,1.148,1.250,1.406,
        1.444,1.459,1.300,1.331,1.315,1.406,0.998,1.052,1.154,1.102,
        1.098,1.209,1.219,1.252,1.228,0.643,0.687,0.802,0.917,0.970,
        1.078,1.463,1.517,1.574,1.117,1.198,0.850,0.989,1.063,1.037,
        1.120,1.361,0.607,0.611,0.644,0.880,1.135,1.280,1.324,1.343,
        1.263,0.941,0.909,0.980,1.031,1.057,1.154,1.181,1.180,1.217,
        1.224,1.248,0.796,0.831,1.211,1.006,1.065,1.346,1.452,0.763,
        0.774,0.743,1.183,1.176,0.594,0.604,1.141,1.150,0.843,0.802,
        1.006,1.048,1.091,1.104,1.176,1.341,1.365,1.167,1.237,1.524,
        0.576,0.967,1.002,1.148,1.137,0.822,1.269,1.257,1.046,1.052,
        0.656,1.241]
p4_e = [.498,.488,.497,.489,.485,.487,.493,.497,.499,.475,
        .475,.468,.464,.461,.473,.479,.481,.463,.461,.454,
        .450,.456,.454,.452,.454,.443,.441,.443,.437,.440,
        .441,.442,.436,.436,.433,.439,.424,.422,.419,.416,
        .426,.420,.417,.413,.411,.407,.405,.410,.403,.408,
        .400,.395,.399,.391,.389,.397,.394,.396,.402,.400,
        .388,.385,.382,.378,.383,.386,.377,.376,.377,.378,
        .380,.370,.363,.356,.368,.362,.363,.363,.368,.367,
        .365,.359,.357,.350,.361,.353,.353,.355,.348,.352,
        .352,.351,.353,.356,.343,.343,.342,.339,.340,.332,
        .337,.338,.336,.331,.325,.323,.323,.322,.319,.327,
        .330,.339,.327,.328,.319,.316,.322,.325,.320,.316,
        .327,.314,.302,.313,.311,.309,.306,.312,.305,.300,
        .298,.308,.314,.300,.300,.303,.298,.299,.290,.290,
        .292,.291,.289,.288,.292,.289,.288,.286,.288,.289,
        .285,.283,.284,.282,.280,.277,.277,.281,.281,.277,
        .288,.272,.268,.270,.266,.264,.261,.261,.268,.264,
        .267,.264,.259,.262,.253,.253,.252,.254,.253,.249,
        .247,.247,.251,.247,.256,.250,.251,.250,.250,.250,
        .248,.248,.256,.259,.246,.246,.247,.243,.241,.241,
        .237,.236,.238,.231,.234,.229,.227,.225,.219,.226,
        .231,.226,.228,.224,.225,.226,.224,.216,.218,.216,
        .216,.215,.216,.219,.215,.220,.212,.210,.208,.207,
        .205,.203,.205,.201,.198,.203,.207,.199,.192,.193,
        .192,.195,.195,.183,.182,.182,.185,.182,.180,.182,
        .173,.174,.175,.175,.173,.170,.168,.168,.170,.176,
        .176,.173,.168,.163,.167,.168,.165,.162,.161,.161,
        .158,.160,.157,.156,.157,.162,.159,.157,.157,.158,
        .155,.155,.159,.161,.149,.147,.145,.149,.146,.143,
        .143,.146,.138,.134,.128,.134,.133,.136,.139,.136,
        .131,.129,.124,.126,.126,.124,.125,.122,.121,.122,
        .125,.123,.123,.120,.111,.117,.118,.122,.121,.114,
        .108,.107,.109,.103,.097,.096,.097,.094,.092,.087,
        .088,.087,.089,.086,.087,.089,.092,.074,.070,.078,
        .053,.051,.053,.051,.047,.043,.039,.031,.028,.024,
        .025,.016]
p4_logm = [-3.6,-3.6,-4.05,-4.05,-3.6,-4.05,-4.05,-4.05,-4.05,-4.05,
           -4.05,-2.55,-3.6,-4.05,-4.05,-4.05,-4.05,-2.55,-4.05,-4.05,
           -4.05,-2.95,-4.05,-2.55,-4.05,-4.05,-4.05,-4.05,-4.05,-2.55,
           -4.05,-4.05,-2.95,-4.05,-4.05,-4.05,-4.05,-4.05,-4.05,-4.05,
           -3.6,-4.05,-4.05,-4.05,-4.05,-4.05,-4.05,-4.05,-2.95,-4.05,
           -4.05,-2.95,-3.6,-4.05,-4.05,-4.05,-2.55,-3.6,-4.05,-4.05,
           -4.05,-3.6,-2.95,-4.05,-4.05,-4.05,-3.6,-4.05,-4.05,-4.05,
           -4.05,-4.05,-4.05,-4.05,-3.6,-2.55,-4.05,-2.95,-2.55,-3.6,
           -4.05,-3.6,-4.05,-4.05,-4.05,-4.05,-4.05,-4.05,-4.05,-4.05,
           -4.05,-4.05,-4.05,-4.05,-4.05,-4.05,-2.55,-4.05,-3.6,-2.55,
           -4.05,-4.05,-3.6,-2.95,-4.05,-4.05,-4.05,-2.55,-4.05,-4.05,
           -2.95,-4.05,-2.95,-2.55,-4.05,-4.05,-3.6,-4.05,-4.05,-3.6,
           -4.05,-4.05,-4.05,-2.55,-3.6,-2.55,-4.05,-2.55,-4.05,-3.6,
           -3.6,-3.6,-4.05,-3.6,-3.6,-4.05,-4.05,-4.05,-3.6,-3.6,
           -4.05,-2.55,-4.05,-4.05,-3.6,-4.05,-4.05,-4.05,-4.05,-3.6,
           -2.55,-2.55,-2.55,-4.05,-4.05,-4.05,-4.05,-4.05,-4.05,-4.05,
           -2.55,-3.6,-4.05,-4.05,-4.05,-2.55,-3.6,-4.05,-4.05,-4.05,
           -2.95,-2.55,-4.05,-4.05,-4.05,-4.05,-4.05,-3.6,-3.6,-3.6,
           -4.05,-4.05,-4.05,-2.55,-2.1,-2.55,-4.05,-4.05,-2.95,-2.1,
           -3.6,-4.05,-4.05,-4.05,-4.05,-4.05,-4.05,-3.6,-4.05,-4.05,
           -4.05,-4.05,-4.05,-4.05,-4.05,-3.6,-4.05,-4.05,-2.55,-1.75,
           -4.05,-4.05,-2.95,-2.95,-3.6,-3.6,-3.6,-4.05,-4.05,-4.05,
           -4.05,-4.05,-3.6,-4.05,-2.95,-4.05,-4.05,-4.05,-2.55,-4.05,
           -2.55,-4.05,-4.05,-4.05,-3.6,-2.95,-2.55,-4.05,-4.05,-4.05,
           -4.05,-2.95,-2.1,-4.05,-3.6,-4.05,-4.05,-4.05,-4.05,-4.05,
           -4.05,-4.05,-2.95,-4.05,-1.75,-3.6,-4.05,-4.05,-4.05,-3.6,
           -2.95,-4.05,-2.95,-2.55,-3.6,-2.95,-2.55,-2.55,-2.55,-3.6,
           -2.95,-4.05,-4.05,-4.05,-4.05,-2.95,-2.95,-2.95,-4.05,-4.05,
           -2.55,-3.6,-4.05,-4.05,-4.05,-4.05,-2.95,-2.95,-2.95,-4.05,
           -2.55,-3.6,-2.1,-4.05,-2.95,-4.05,-2.1,-2.95,-3.6,-4.05,
           -4.05,-4.05,-4.05,-4.05,-4.05,-4.05,-3.6,-4.05,-4.05,-2.95,
           -4.05,-4.05,-2.1,-4.05,-4.05,-4.05,-4.05,-2.95,-2.1,-4.05,
           -4.05,-3.6,-2.95,-3.6,-4.05,-4.05,-4.05,-3.6,-2.55,-2.55,
           -2.1,-3.6,-4.05,-4.05,-4.05,-3.6,-4.05,-4.05,-4.05,-4.05,
           -2.95,-4.05,-4.05,-2.55,-3.6,-0.1,-2.1,-1.3,-0.5,-4.05,
           -0.55,-1.8]

time_labels = ["t = 0 Myr", "t = 10 Myr"]
x_ticks = [0.5, 1.0, 1.5, 2.0]
x_tick_labels = ["0.5", "1.0", "1.5", "2.0"]
y_ticks = [0.0, 0.1, 0.2, 0.3, 0.4, 0.5]
y_tick_labels = ["0.0", "0.1", "0.2", "0.3", "0.4", "0.5"]
cbar_ticks = [0, -1, -2, -3, -4, -5]

# ---------------- style ----------------
W, H = 2400, 1200
M = 40                      # figure margin (px) so nothing pushes the plot area
AW, AH = W - 2 * M, H - 2 * M
FONT = "DejaVu Sans"
FS = 19
SPINE = "#808080"


def px_x(p):
    return (p - M) / AW


def px_y(p):
    return 1 - (p - M) / AH


def jet_colorscale(n=101):
    v = np.linspace(0, 1, n)
    r = np.interp(v, [0, 0.35, 0.66, 0.89, 1], [0, 0, 1, 1, 0.5])
    g = np.interp(v, [0, 0.125, 0.375, 0.64, 0.91, 1], [0, 0, 1, 1, 0, 0])
    b = np.interp(v, [0, 0.11, 0.34, 0.65, 1], [0.5, 1, 1, 0, 0])
    return [[float(vi), "rgb(%d,%d,%d)" % (round(ri * 255), round(gi * 255), round(bi * 255))]
            for vi, ri, gi, bi in zip(v, r, g, b)]


JET = jet_colorscale()


def marker_size(m):
    return 3.2 + 10.0 * 10 ** (m / 3.0)


col_left = [74 + 600.33 * c for c in range(4)]
row_top = [72, 672]
PW, PH = 373, 462

panels = []
for c in range(4):
    panels.append((0, c, t0_a, t0_e, t0_logm, time_labels[0]))
bottom = [(p1_a, p1_e, p1_logm), (p2_a, p2_e, p2_logm), (p3_a, p3_e, p3_logm), (p4_a, p4_e, p4_logm)]
for c, (a, e, m) in enumerate(bottom):
    panels.append((1, c, a, e, m, time_labels[1]))

fig = go.Figure()
layout = dict(width=W, height=H, margin=dict(l=M, r=M, t=M, b=M, autoexpand=False),
              paper_bgcolor="white", plot_bgcolor="white", showlegend=False,
              font=dict(family=FONT, size=FS, color="black"), annotations=[])

for k, (r, c, a, e, m, label) in enumerate(panels, start=1):
    L = col_left[c]
    T = row_top[r]
    xs = "" if k == 1 else str(k)
    pts = list(zip(a, e, m))
    xa = [p[0] for p in pts]
    ya = [p[1] for p in pts]
    ma = [p[2] for p in pts]
    fig.add_trace(go.Scatter(
        x=xa, y=ya, mode="markers", xaxis="x" + xs, yaxis="y" + xs,
        marker=dict(color=ma, colorscale=JET, cmin=-5, cmax=0, opacity=1,
                    size=[marker_size(v) for v in ma], line=dict(width=0),
                    showscale=True,
                    colorbar=dict(x=px_x(L + 396), xanchor="left", xpad=0, ypad=0,
                                  y=px_y(T + PH / 2), yanchor="middle",
                                  len=PH, lenmode="pixels", thickness=23,
                                  outlinewidth=1, outlinecolor="black",
                                  tickmode="array", tickvals=cbar_ticks,
                                  ticks="outside", ticklen=5, tickwidth=1, tickcolor="#444",
                                  tickfont=dict(family=FONT, size=FS, color="black"),
                                  title=dict(text="log (<i>m</i>/<i>M</i><sub>⊕</sub>)",
                                             side="right",
                                             font=dict(family=FONT, size=FS, color="black")))),
        hoverinfo="skip"))
    axis_common = dict(showline=True, mirror=True, linecolor=SPINE, linewidth=1.4,
                       ticks="outside", ticklen=5, tickwidth=1.4, tickcolor=SPINE,
                       showgrid=False, zeroline=False, automargin=False,
                       tickfont=dict(family=FONT, size=FS, color="black"))
    layout["xaxis" + xs] = dict(axis_common, domain=[px_x(L), px_x(L + PW)], range=[0.2, 2.0],
                                 anchor="y" + xs, tickmode="array", tickvals=x_ticks,
                                 ticktext=x_tick_labels,
                                 title=dict(text="a [AU]", standoff=2,
                                            font=dict(family=FONT, size=FS)))
    layout["yaxis" + xs] = dict(axis_common, domain=[px_y(T + PH), px_y(T)], range=[0, 0.5],
                                 anchor="x" + xs, tickmode="array", tickvals=y_ticks,
                                 ticktext=y_tick_labels,
                                 title=dict(text="e", standoff=8,
                                            font=dict(family=FONT, size=FS)))
    layout["annotations"].append(dict(text=label, x=1.0, y=0.491, xref="x" + xs, yref="y" + xs,
                                      showarrow=False, xanchor="center", yanchor="middle",
                                      font=dict(family=FONT, size=FS, color="black")))

fig.update_layout(**layout)
fig.write_html("out.html", config={"displayModeBar": False},
               post_script="document.body.style.margin='0px';")
